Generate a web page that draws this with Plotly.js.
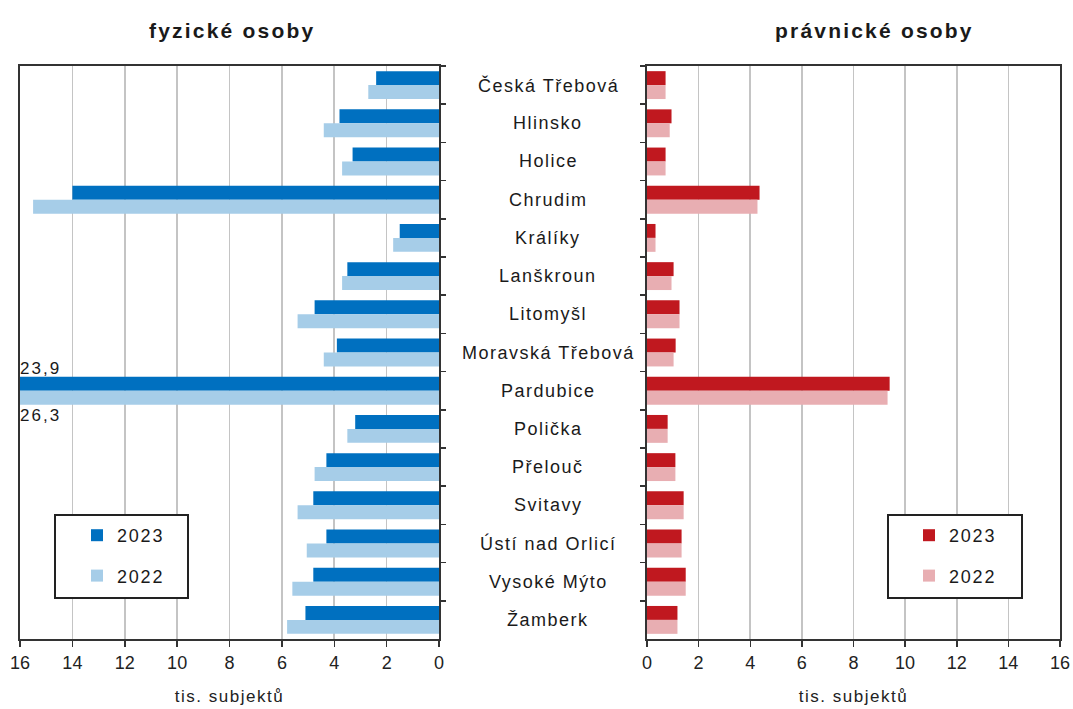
<!DOCTYPE html>
<html>
<head>
<meta charset="utf-8">
<script src="https://cdn.plot.ly/plotly-3.0.1.min.js"></script>
<style>
html,body{margin:0;padding:0;background:#fff;}
#chart{width:1073px;height:709px;}
.xtitle,.x2title{letter-spacing:1.5px;}
</style>
</head>
<body>
<div id="chart"></div>
<script>
const categories = ["Česká Třebová","Hlinsko","Holice","Chrudim","Králíky","Lanškroun","Litomyšl","Moravská Třebová","Pardubice","Polička","Přelouč","Svitavy","Ústí nad Orlicí","Vysoké Mýto","Žamberk"];
const fyzicke2023 = [2.4,3.8,3.3,14.0,1.5,3.5,4.75,3.9,23.9,3.2,4.3,4.8,4.3,4.8,5.1];
const fyzicke2022 = [2.7,4.4,3.7,15.5,1.75,3.7,5.4,4.4,26.3,3.5,4.75,5.4,5.05,5.6,5.8];
const pravnicke2023 = [0.72,0.95,0.72,4.36,0.33,1.03,1.26,1.11,9.4,0.8,1.1,1.42,1.34,1.5,1.18];
const pravnicke2022 = [0.72,0.88,0.72,4.28,0.33,0.95,1.26,1.03,9.32,0.8,1.1,1.42,1.34,1.5,1.18];
const seriesNames = ["2023","2022"];
const titleLeft = "fyzické osoby";
const titleRight = "právnické osoby";
const axisTitle = "tis. subjektů";
const xTicks = [0,2,4,6,8,10,12,14,16];

const fontMain = "Liberation Sans, Arial, sans-serif";
const fontNarrow = "Liberation Sans Narrow, Arial Narrow, Liberation Sans, sans-serif";

function spaced(t, px){ return '<span style="letter-spacing:'+px+'px">'+t+'</span>'; }

const traces = [
  {type:'bar', orientation:'h', name:spaced(seriesNames[0],1.8), y:categories, x:fyzicke2023, xaxis:'x', yaxis:'y', marker:{color:'#0070C0'}, legend:'legend', legendgroup:'a'},
  {type:'bar', orientation:'h', name:spaced(seriesNames[1],1.8), y:categories, x:fyzicke2022, xaxis:'x', yaxis:'y', marker:{color:'#A6CDE8'}, legend:'legend', legendgroup:'b'},
  {type:'bar', orientation:'h', name:spaced(seriesNames[0],1.8), y:categories, x:pravnicke2023, xaxis:'x2', yaxis:'y2', marker:{color:'#C0181F'}, legend:'legend2', legendgroup:'c'},
  {type:'bar', orientation:'h', name:spaced(seriesNames[1],1.8), y:categories, x:pravnicke2022, xaxis:'x2', yaxis:'y2', marker:{color:'#E8AEB2'}, legend:'legend2', legendgroup:'d'}
];

const yDomain = [70/709, 643/709];
const axisLine = {showline:true, linecolor:'#333', linewidth:2, mirror:true};

function xAxis(domain, range, anchor){
  return Object.assign({
    domain:domain, range:range, anchor:anchor,
    tickvals:xTicks, ticktext:xTicks.map(String),
    ticks:'outside', ticklen:6, tickcolor:'#333', tickwidth:1.5,
    showgrid:true, gridcolor:'#C4C4C4', gridwidth:1.6, zeroline:false,
    tickfont:{family:fontNarrow, size:18, color:'#222'},
    title:{text:axisTitle, font:{family:fontMain, size:17, color:'#222'}, standoff:19},
    fixedrange:true
  }, axisLine);
}
function yAxis(anchor, side){
  return Object.assign({
    domain:yDomain, anchor:anchor, side:side,
    type:'category', categoryorder:'array', categoryarray:categories,
    autorange:'reversed',
    ticks:'outside', tickson:'boundaries', ticklen:5, tickcolor:'#333', tickwidth:1.5,
    showticklabels:false, showgrid:false, zeroline:false, fixedrange:true
  }, axisLine);
}

const annotations = [];
categories.forEach(c => {
  annotations.push({xref:'paper', yref:'y2', x:548/1073, y:c, text:spaced(c,1.5), showarrow:false,
    xanchor:'center', yanchor:'middle', font:{family:fontMain, size:18, color:'#1a1a1a'}});
});
annotations.push({xref:'paper', yref:'paper', x:232/1073, y:1-30/709, text:'<b>'+spaced(titleLeft,2.2)+'</b>', showarrow:false,
  xanchor:'center', yanchor:'middle', font:{family:fontMain, size:21, color:'#1a1a1a'}});
annotations.push({xref:'paper', yref:'paper', x:874/1073, y:1-30/709, text:'<b>'+spaced(titleRight,2.2)+'</b>', showarrow:false,
  xanchor:'center', yanchor:'middle', font:{family:fontMain, size:21, color:'#1a1a1a'}});
const pIdx = categories.indexOf("Pardubice");
annotations.push({xref:'x', yref:'y', x:16, y:categories[pIdx], yshift:22, text:spaced(String(fyzicke2023[pIdx]).replace('.',','),2), showarrow:false,
  xanchor:'left', yanchor:'middle', xshift:-2, font:{family:fontMain, size:17, color:'#1a1a1a'}});
annotations.push({xref:'x', yref:'y', x:16, y:categories[pIdx], yshift:-25, text:spaced(String(fyzicke2022[pIdx]).replace('.',','),2), showarrow:false,
  xanchor:'left', yanchor:'middle', xshift:-2, font:{family:fontMain, size:17, color:'#1a1a1a'}});

const shapes = [
  {type:'rect', xref:'paper', yref:'paper', x0:55/1073, x1:188/1073, y0:1-598/709, y1:1-515/709,
   line:{color:'#222', width:2}, fillcolor:'#fff', layer:'above'},
  {type:'rect', xref:'paper', yref:'paper', x0:888/1073, x1:1022/1073, y0:1-598/709, y1:1-515/709,
   line:{color:'#222', width:2}, fillcolor:'#fff', layer:'above'}
];

const legendBase = {
  yanchor:'top', xanchor:'left', y:1-517/709,
  bgcolor:'rgba(0,0,0,0)', borderwidth:0,
  font:{family:fontMain, size:18, color:'#1a1a1a'},
  traceorder:'grouped', tracegroupgap:14, itemclick:false, itemdoubleclick:false
};

const layout = {
  width:1073, height:709,
  margin:{l:0, r:0, t:0, b:0},
  paper_bgcolor:'#fff', plot_bgcolor:'#fff',
  barmode:'group', bargap:0.27, bargroupgap:0,
  showlegend:true,
  xaxis: xAxis([20/1073, 439/1073], [16, 0], 'y'),
  yaxis: yAxis('x', 'right'),
  xaxis2: xAxis([647/1073, 1060/1073], [0, 16], 'y2'),
  yaxis2: yAxis('x2', 'left'),
  legend: Object.assign({}, legendBase, {x:77/1073}),
  legend2: Object.assign({}, legendBase, {x:909/1073}),
  annotations: annotations,
  shapes: shapes
};

Plotly.newPlot('chart', traces, layout, {displayModeBar:false, staticPlot:true});
</script>
</body>
</html>
